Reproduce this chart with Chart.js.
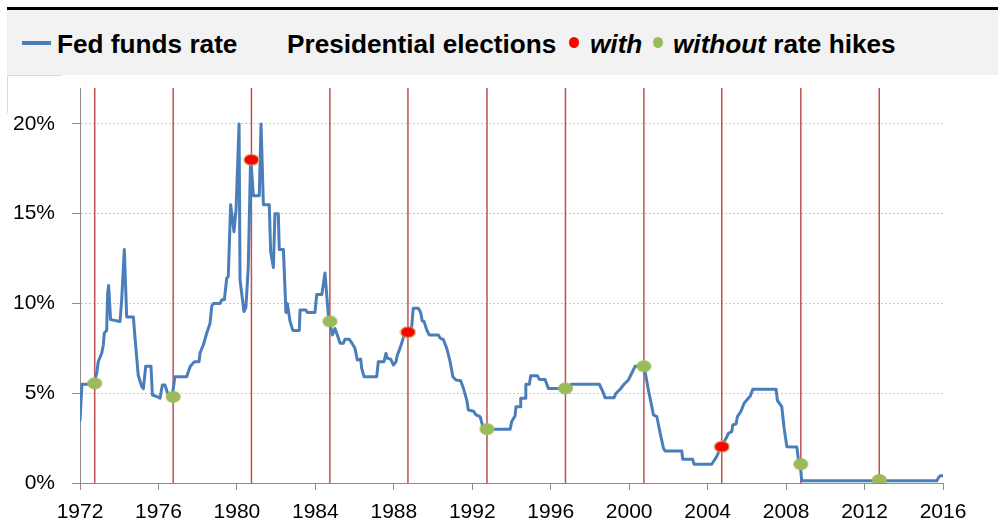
<!DOCTYPE html>
<html>
<head>
<meta charset="utf-8">
<script src="https://cdn.jsdelivr.net/npm/chart.js@4.4.0/dist/chart.umd.min.js"></script>
<style>
  html, body { margin: 0; padding: 0; background: #fff; width: 998px; height: 527px; overflow: hidden; }
  #wrap { position: relative; width: 998px; height: 527px; }
  canvas { position: absolute; left: 0; top: 0; }
  #topbar { position: absolute; left: 7px; top: 7px; width: 991px; height: 3px; background: #000; }
  #band { position: absolute; left: 7px; top: 10px; width: 991px; height: 65px; background: #f2f2f2; }
  #corner { position: absolute; left: 7px; top: 75px; width: 53px; height: 37px;
            border-top: 1px solid #d9d9d9; border-left: 1px solid #d9d9d9; }
  .leg { position: absolute; top: 31px; font-family: "Liberation Sans", Arial, sans-serif;
         font-weight: bold; font-size: 26.2px; line-height: 1; color: #000; white-space: nowrap; }
  .leg i { font-style: italic; }
  .swatch { position: absolute; left: 22px; top: 41px; width: 29px; height: 4px; background: #4a7ebb; }
  .dot { position: absolute; top: 37px; width: 10px; height: 11px; border-radius: 50%; }
</style>
</head>
<body>
<div id="wrap">
  <canvas id="chart" width="998" height="527"></canvas>
  <div id="topbar"></div>
  <div id="band"></div>
  <div id="corner"></div>
  <div class="swatch"></div>
  <div class="leg" style="left:57px">Fed funds rate</div>
  <div class="leg" style="left:287px">Presidential elections</div>
  <div class="dot" style="left:569px;background:#ff0000"></div>
  <div class="leg" style="left:590px"><i>with</i></div>
  <div class="dot" style="left:653px;background:#9bbb59"></div>
  <div class="leg" style="left:673px"><i>without</i> rate hikes</div>
</div>
<script>
// Effective federal funds rate, % (decimal year, value)
const rateDates = [
  1972.00, 1972.10, 1972.68, 1972.85, 1972.93, 1973.11, 1973.19, 1973.24, 1973.36, 1973.41,
  1973.46, 1973.56, 1974.04, 1974.12, 1974.26, 1974.38, 1974.72, 1974.80, 1974.97, 1975.15,
  1975.23, 1975.35, 1975.62, 1975.69, 1975.91, 1976.08, 1976.20, 1976.33, 1976.47, 1976.71,
  1976.84, 1977.44, 1977.61, 1977.83, 1978.07, 1978.12, 1978.29, 1978.46, 1978.63, 1978.72,
  1978.80, 1979.14, 1979.23, 1979.36, 1979.48, 1979.56, 1979.68, 1979.85, 1979.96, 1980.11,
  1980.16, 1980.36, 1980.46, 1980.58, 1980.70, 1980.84, 1981.14, 1981.23, 1981.35, 1981.65,
  1981.72, 1981.86, 1981.94, 1982.11, 1982.16, 1982.37, 1982.50, 1982.57, 1982.71, 1982.85,
  1983.18, 1983.22, 1983.52, 1983.59, 1983.98, 1984.07, 1984.33, 1984.49, 1984.66, 1984.87,
  1985.00, 1985.12, 1985.26, 1985.43, 1985.51, 1985.73, 1985.86, 1986.02, 1986.14, 1986.31,
  1986.36, 1986.48, 1987.13, 1987.21, 1987.50, 1987.60, 1987.67, 1987.84, 1987.98, 1988.11,
  1988.18, 1988.28, 1988.40, 1988.52, 1988.69, 1988.91, 1988.99, 1989.25, 1989.37, 1989.45,
  1989.54, 1989.68, 1989.81, 1990.27, 1990.36, 1990.53, 1990.70, 1990.87, 1991.01, 1991.17,
  1991.41, 1991.55, 1991.72, 1991.80, 1992.06, 1992.19, 1992.40, 1992.54, 1992.65, 1993.93,
  1994.01, 1994.18, 1994.23, 1994.44, 1994.47, 1994.69, 1994.73, 1994.91, 1994.98, 1995.32,
  1995.42, 1995.71, 1995.88, 1997.00, 1997.05, 1998.48, 1998.69, 1998.77, 1999.23, 1999.33,
  1999.54, 1999.74, 1999.96, 2000.13, 2000.30, 2000.76, 2000.98, 2001.24, 2001.41, 2001.58,
  2001.75, 2001.83, 2002.68, 2002.73, 2003.24, 2003.31, 2004.21, 2004.29, 2004.46, 2004.69,
  2004.94, 2005.06, 2005.23, 2005.28, 2005.45, 2005.52, 2005.69, 2005.86, 2006.03, 2006.17,
  2006.30, 2007.49, 2007.56, 2007.78, 2007.90, 2008.04, 2008.55, 2008.63, 2008.72, 2008.80,
  2015.69, 2015.77, 2015.86, 2016.00
];
const rateValues = [
  3.50, 5.50, 5.50, 6.10, 6.75, 7.24, 7.70, 8.35, 8.50, 10.60,
  11.00, 9.10, 9.00, 10.10, 13.00, 9.25, 9.25, 8.15, 6.00, 5.37,
  5.25, 6.50, 6.50, 4.90, 4.82, 4.72, 5.46, 5.46, 5.00, 4.90,
  5.92, 5.92, 6.48, 6.76, 6.76, 7.24, 7.70, 8.34, 8.90, 9.86,
  10.00, 10.00, 10.20, 10.20, 11.40, 11.50, 15.50, 14.00, 15.30, 20.00,
  11.30, 9.55, 9.80, 12.05, 18.20, 16.00, 16.00, 20.00, 15.50, 15.50,
  12.90, 12.00, 15.00, 15.00, 13.00, 13.00, 9.50, 10.00, 9.00, 8.50,
  8.50, 9.64, 9.64, 9.50, 9.50, 10.50, 10.50, 11.70, 9.36, 8.24,
  8.60, 8.24, 7.78, 7.78, 8.00, 8.00, 7.80, 7.50, 6.85, 6.90,
  6.40, 5.92, 5.92, 6.76, 6.76, 7.22, 6.95, 6.90, 6.57, 6.76,
  7.13, 7.40, 7.78, 8.24, 8.43, 8.70, 9.73, 9.73, 9.50, 9.02,
  9.00, 8.52, 8.24, 8.24, 8.07, 7.98, 7.50, 6.76, 5.92, 5.74,
  5.70, 5.27, 4.62, 4.07, 4.00, 3.79, 3.70, 3.14, 3.00, 3.00,
  3.42, 3.73, 4.25, 4.25, 4.72, 4.72, 5.50, 5.50, 5.98, 5.98,
  5.77, 5.77, 5.27, 5.27, 5.50, 5.50, 5.00, 4.75, 4.75, 5.00,
  5.22, 5.50, 5.74, 6.11, 6.50, 6.50, 5.18, 3.79, 3.70, 2.77,
  1.93, 1.78, 1.78, 1.32, 1.32, 1.04, 1.04, 1.18, 1.47, 2.02,
  2.49, 2.77, 2.86, 3.23, 3.30, 3.70, 3.97, 4.44, 4.66, 4.84,
  5.22, 5.22, 4.59, 4.25, 3.05, 2.02, 2.00, 1.28, 1.00, 0.12,
  0.12, 0.30, 0.40, 0.40
];

// Presidential elections (decimal year), the rate at that time, and whether hikes followed
const electionDates = [1972.75, 1976.75, 1980.74, 1984.74, 1988.72, 1992.75, 1996.75, 2000.75, 2004.72, 2008.75, 2012.75];
const electionRates = [5.55, 4.80, 18.00, 9.00, 8.40, 3.00, 5.27, 6.50, 2.02, 1.05, 0.17];
const electionHikes = [false, false, true, false, true, false, false, false, true, false, false];

// Axis ticks
const yearTicks = [1972, 1976, 1980, 1984, 1988, 1992, 1996, 2000, 2004, 2008, 2012, 2016];
const pctTicks = [0, 5, 10, 15, 20];

const BLUE = '#4a7ebb', RED_LINE = '#c0504d', GREEN = '#9bbb59', RED_DOT = '#ff0000';
const TICK_FONT = { family: '"Liberation Sans", Arial, sans-serif', size: 21 };

function ellipseIcon(w, h, fill, stroke) {
  const c = document.createElement('canvas');
  c.width = w + 2; c.height = h + 2;
  const g = c.getContext('2d');
  g.beginPath();
  g.ellipse((w + 2) / 2, (h + 2) / 2, w / 2, h / 2, 0, 0, Math.PI * 2);
  g.fillStyle = fill; g.fill();
  if (stroke) { g.lineWidth = 1.2; g.strokeStyle = stroke; g.stroke(); }
  return c;
}
const redIcon = ellipseIcon(15, 11, RED_DOT, '#b5c26a');
const greenIcon = ellipseIcon(15, 12, GREEN, null);

const yMax = 22;

// vertical election markers, one two-point dataset each (drawn underneath)
const electionLines = electionDates.map(d => ({
  data: [{ x: d, y: 0 }, { x: d, y: yMax }],
  borderColor: RED_LINE, borderWidth: 1.5, pointRadius: 0, fill: false, tension: 0, order: 3
}));

const electionPts = electionDates.map((d, i) => ({ x: d, y: electionRates[i], hike: electionHikes[i] }));

new Chart(document.getElementById('chart'), {
  type: 'line',
  data: {
    datasets: [
      {
        label: 'with rate hikes',
        data: electionPts.filter(p => p.hike),
        showLine: false, pointStyle: redIcon, pointRadius: 7, order: 0
      },
      {
        label: 'without rate hikes',
        data: electionPts.filter(p => !p.hike),
        showLine: false, pointStyle: greenIcon, pointRadius: 7, order: 1
      },
      {
        label: 'Fed funds rate',
        data: rateDates.map((d, i) => ({ x: d, y: rateValues[i] })),
        borderColor: BLUE, borderWidth: 3, pointRadius: 0, tension: 0,
        borderJoinStyle: 'round', borderCapStyle: 'round', fill: false, order: 2
      },
      ...electionLines
    ]
  },
  options: {
    responsive: false,
    animation: false,
    events: [],
    layout: { padding: { top: 88, right: 55, bottom: 0, left: 0 } },
    plugins: { legend: { display: false }, tooltip: { enabled: false } },
    scales: {
      x: {
        type: 'linear', min: yearTicks[0], max: yearTicks[yearTicks.length - 1],
        afterFit: s => { s.height = 44; },
        afterBuildTicks: s => { s.ticks = yearTicks.map(v => ({ value: v })); },
        ticks: { callback: v => String(v), color: '#000', font: TICK_FONT, padding: 10, maxRotation: 0, autoSkip: false },
        grid: { drawOnChartArea: false, drawTicks: true, tickLength: 7, tickColor: '#8c8c8c', tickWidth: 1 },
        border: { color: '#8c8c8c', width: 1 }
      },
      y: {
        min: 0, max: yMax,
        afterFit: s => { s.width = 80; },
        afterBuildTicks: s => { s.ticks = pctTicks.map(v => ({ value: v })); },
        ticks: { callback: v => v + '%', color: '#000', font: TICK_FONT, padding: 17 },
        grid: {
          color: c => (c.tick && c.tick.value === 0) ? 'rgba(0,0,0,0)' : '#c8c8c8',
          lineWidth: 1, drawTicks: true, tickLength: 8, tickColor: '#8c8c8c', tickBorderDash: []
        },
        border: { color: '#8c8c8c', width: 1, dash: [2, 2] }
      }
    }
  }
});
</script>
</body>
</html>
